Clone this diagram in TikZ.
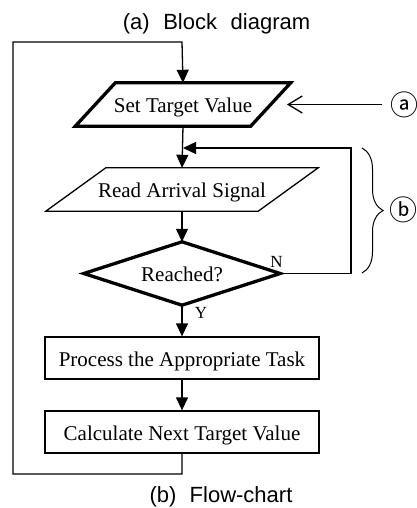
\documentclass[tikz,border=0pt]{standalone}
\usepackage{fontspec}
\setmainfont{Liberation Serif}
\newfontfamily\capfont{Liberation Sans}
\newfontfamily\circfont{Noto Sans CJK KR}
\usetikzlibrary{arrows.meta,decorations.pathreplacing,calc}
\begin{document}
\begin{tikzpicture}[x=1pt,y=-1pt,
  thinln/.style={line width=1.3pt},
  boldln/.style={line width=3.3pt, line join=miter, miter limit=20},
  tri/.style={-{Triangle[width=12pt,length=13pt]}},
  barb/.style={-{Straight Barb[width=17pt,length=14pt,line width=1.3pt]}},
  txt/.style={inner sep=0pt, text height=16pt, text depth=0pt, font=\fontsize{21}{24}\selectfont},
  boxn/.style={txt, draw, thinln, minimum width=274pt, minimum height=42pt},
  captxt/.style={anchor=base, inner sep=0pt, font=\capfont\fontsize{22}{26}\selectfont},
  yn/.style={inner sep=0pt, font=\fontsize{17}{20}\selectfont},
  circ/.style={inner sep=0pt, font=\circfont\fontsize{28}{30}\selectfont}
]
\useasboundingbox (0,0) rectangle (417,508);

% captions
\node[captxt] (capa) at (216.5,30) {(a)\hspace{0.62em}Block\hspace{0.62em}diagram};
\node[captxt] (capb) at (221,502) {(b)\hspace{0.6em}Flow-chart};

% Set Target Value (bold parallelogram)
\node[txt, minimum width=175pt, minimum height=43pt] (stv) at (183,104.5) {Set Target Value};
\draw[boldln] ($(stv.south west)+(-20,0)$) -- ($(stv.north west)+(20,0)$) -- ($(stv.north east)+(20,0)$) -- ($(stv.south east)+(-20,0)$) -- cycle;

% Read Arrival Signal (thin parallelogram)
\node[txt, minimum width=212pt, minimum height=43pt] (ras) at (182,189.5) {Read Arrival Signal};
\draw[thinln, line join=miter] ($(ras.south west)+(-30,0)$) -- ($(ras.north west)+(30,0)$) -- ($(ras.north east)+(30,0)$) -- ($(ras.south east)+(-30,0)$) -- cycle;

% Decision diamond
\node[txt, minimum width=196pt, minimum height=63pt] (dia) at (182,273.5) {Reached?};
\draw[boldln] (dia.north) -- (dia.east) -- (dia.south) -- (dia.west) -- cycle;

% Process boxes
\node[boxn] (proc) at (182,358) {Process the Appropriate Task};
\node[boxn] (calc) at (182,432) {Calculate Next Target Value};

% Y / N labels
\node[yn] (ylab) at (201,313) {Y};
\node[yn] (nlab) at (276.5,262) {N};

% side labels
\node[circ] (la) at (404,105) {ⓐ};
\node[circ] (lb) at (403,210) {ⓑ};
\coordinate (atip) at (287,104.5);
\coordinate (astart) at (382,104.5);
\draw[thinln, barb] (astart) -- (atip);

% main flow
\draw[thinln, tri] (stv.south) -- (ras.north);
\draw[thinln, tri] (ras.south) -- (dia.north);
\draw[thinln, tri] (dia.south) -- (proc.north);
\draw[thinln, tri] (proc.south) -- (calc.north);

% feedback loop (N)
\coordinate (j) at (183,148);
\coordinate (fb) at (351,148);
\draw[thinln, tri] (dia.east) -- (dia.east -| fb) -- (fb) -- (j);

% outer loop
\coordinate (lb1) at (182,474);
\coordinate (lb2) at (13,474);
\coordinate (lt1) at (13,42);
\coordinate (lt2) at (182,42);
\draw[thinln, tri] (calc.south) -- (lb1) -- (lb2) -- (lt1) -- (lt2) -- (stv.north);

% brace
\coordinate (bt) at (362,148);
\coordinate (bb) at (362,273);
\draw[line width=1pt, decorate, decoration={brace, amplitude=21pt}] (bt) -- (bb);
\end{tikzpicture}
\end{document}
